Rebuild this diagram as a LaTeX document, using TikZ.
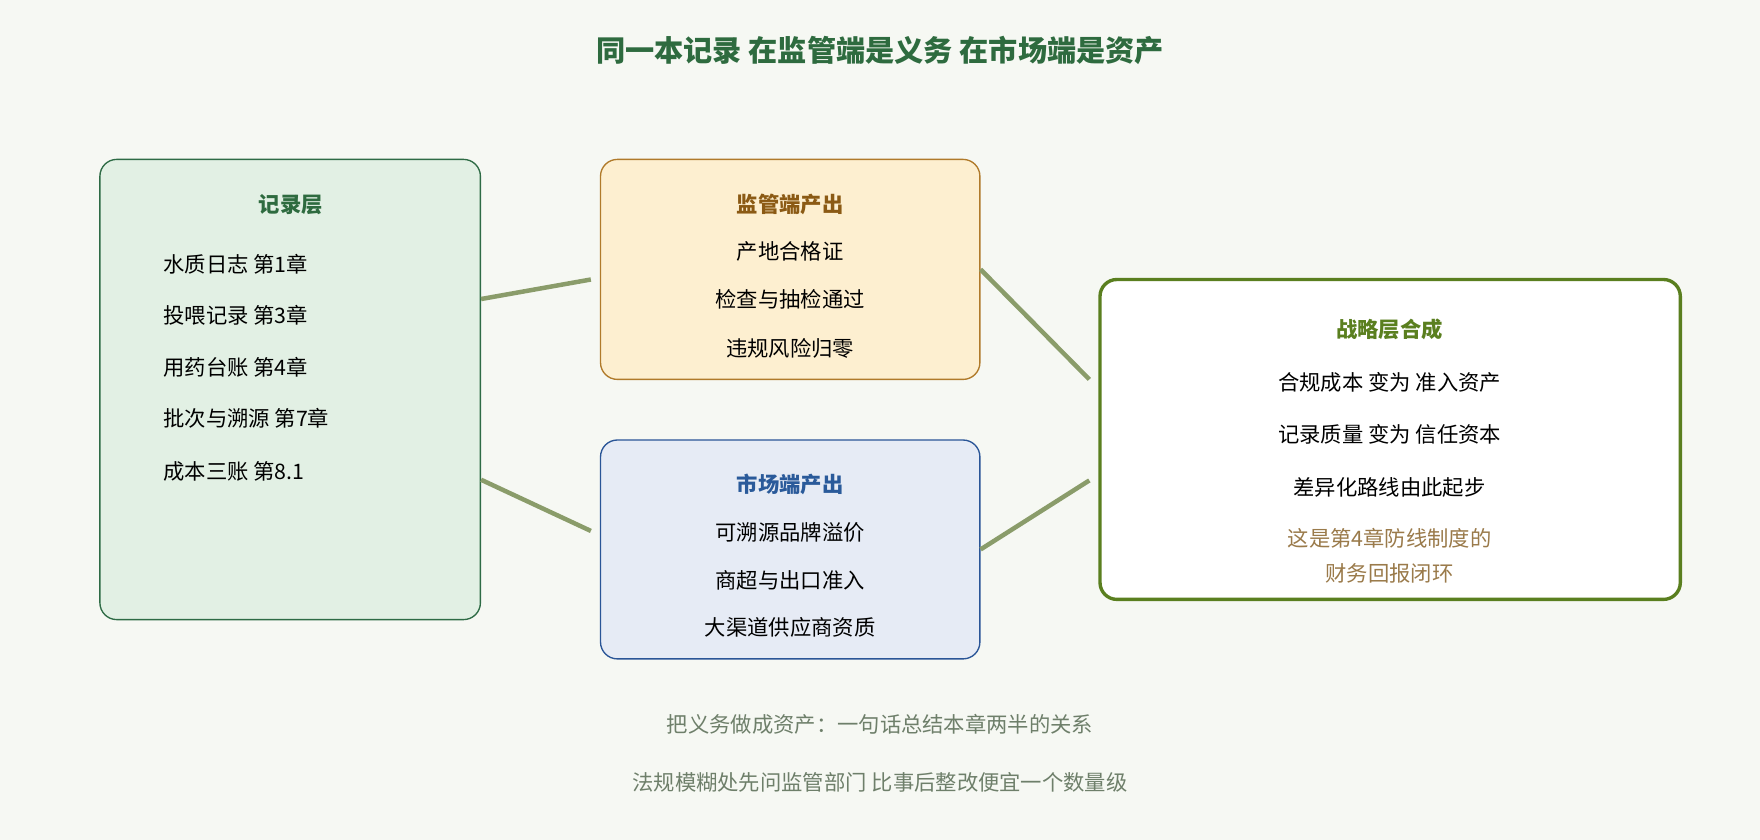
\documentclass[tikz,border=0pt]{standalone}
\usepackage{fontspec}
\setmainfont{Noto Sans CJK SC}
\usetikzlibrary{calc}
\definecolor{bg}{HTML}{F6F8F3}
\definecolor{titlegreen}{HTML}{2E6B3F}
\definecolor{recfill}{HTML}{E2F0E4}
\definecolor{recdraw}{HTML}{2E6B45}
\definecolor{regfill}{HTML}{FDEFD0}
\definecolor{regdraw}{HTML}{B07A2A}
\definecolor{regtext}{HTML}{8B5A14}
\definecolor{mktfill}{HTML}{E6EBF5}
\definecolor{mktdraw}{HTML}{2A5597}
\definecolor{mkttext}{HTML}{2A5A9A}
\definecolor{strdraw}{HTML}{5A7F1F}
\definecolor{notetext}{HTML}{9A7A4A}
\definecolor{linkcol}{HTML}{8A9C6A}
\definecolor{foot}{HTML}{6E7F6A}
\begin{document}
\begin{tikzpicture}[x=1pt,y=-1pt]
    \tikzstyle{box}=[draw,rounded corners=15pt,line width=1.2pt,inner sep=0pt]
    \tikzstyle{head}=[font=\fontsize{19}{22}\selectfont\bfseries]
    \tikzstyle{item}=[font=\fontsize{19}{22}\selectfont,text=black]
    \tikzstyle{connector}=[draw=linkcol,line width=4pt]
    \fill[bg] (0,0) rectangle (1568,748);
    \useasboundingbox (0,0) rectangle (1568,748);
    \node[font=\fontsize{26}{30}\selectfont\bfseries,text=titlegreen] (title) at (784,45) {同一本记录 在监管端是义务 在市场端是资产};
    % boxes
    \node[box,fill=recfill,draw=recdraw,minimum width=339pt,minimum height=410pt] (rec) at (258.5,347) {};
    \node[box,fill=regfill,draw=regdraw,minimum width=338pt,minimum height=196pt] (reg) at (704,240) {};
    \node[box,fill=mktfill,draw=mktdraw,minimum width=338pt,minimum height=195pt] (mkt) at (704,489.5) {};
    \node[box,fill=white,draw=strdraw,line width=3pt,minimum width=517pt,minimum height=285pt] (str) at (1238.5,391.5) {};
    % record layer
    \node[head,text=titlegreen] (rech) at (259,182) {记录层};
    \node[item,anchor=west] (rec1) at (142,235) {水质日志 第1章};
    \node[item,anchor=west] (rec2) at (142,281) {投喂记录 第3章};
    \node[item,anchor=west] (rec3) at (142,327) {用药台账 第4章};
    \node[item,anchor=west] (rec4) at (142,373) {批次与溯源 第7章};
    \node[item,anchor=west] (rec5) at (142,420) {成本三账 第8.1};
    % regulator output
    \node[head,text=regtext] (regh) at (704,182) {监管端产出};
    \node[item] (reg1) at (704,224) {产地合格证};
    \node[item] (reg2) at (704,267) {检查与抽检通过};
    \node[item] (reg3) at (704,310) {违规风险归零};
    % market output
    \node[head,text=mkttext] (mkth) at (704,432) {市场端产出};
    \node[item] (mkt1) at (704,474) {可溯源品牌溢价};
    \node[item] (mkt2) at (704,517) {商超与出口准入};
    \node[item] (mkt3) at (704,559) {大渠道供应商资质};
    % strategy
    \node[head,text=strdraw] (strh) at (1238,293) {战略层合成};
    \node[item] (str1) at (1238,341) {合规成本 变为 准入资产};
    \node[item] (str2) at (1238,387) {记录质量 变为 信任资本};
    \node[item] (str3) at (1238,434) {差异化路线由此起步};
    \node[item,text=notetext,align=center,font=\fontsize{19}{31}\selectfont] (strn) at (1238,495) {这是第4章防线制度的\\财务回报闭环};
    % links
    \draw[connector] ($(rec.north east)+(0,125)$) -- ($(reg.west)+(-8,9)$);
    \draw[connector] ($(rec.north east)+(0,286)$) -- ($(mkt.west)+(-8,-16.5)$);
    \draw[connector] (reg.east) -- ($(str.west)+(-8,-53.5)$);
    \draw[connector] (mkt.east) -- ($(str.west)+(-8,36.5)$);
    % footer
    \node[item,text=foot] (foot1) at (784,645) {把义务做成资产：一句话总结本章两半的关系};
    \node[item,text=foot] (foot2) at (784,697) {法规模糊处先问监管部门 比事后整改便宜一个数量级};
\end{tikzpicture}
\end{document}
